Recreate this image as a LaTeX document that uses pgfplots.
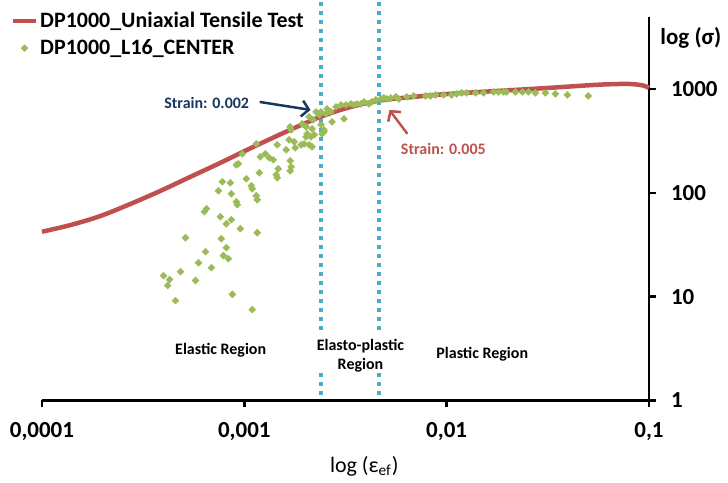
\documentclass[border=0pt]{standalone}
\usepackage{fontspec}
\setmainfont{Carlito}
\usepackage{pgfplots}
\pgfplotsset{compat=1.18}
\usepackage{pgfplotstable}
\usetikzlibrary{arrows.meta}
\definecolor{cred}{HTML}{C0504D}
\definecolor{cgreen}{HTML}{9BBB59}
\definecolor{cblue}{HTML}{4BACC6}
\definecolor{cnavy}{HTML}{17375E}

\pgfplotstableread{
x y
0.0001 42.17
0.0001374 48.7
0.0001931 59.4
0.0002714 77.5
0.0003814 103.4
0.0005358 141.0
0.000753 192.2
0.001058 264.9
0.001487 361.2
0.001866 440.8
0.002342 532.1
0.002938 621.4
0.003687 701.7
0.004784 778.6
0.00728 847.1
0.01023 895.2
0.01803 956.8
0.0318 1022.4
0.0561 1097.4
0.0788 1117
0.0933 1080.6
0.1 1022.4
}\tensile

\pgfplotstableread{
x y
0.000978 237.1
0.001199 221.9
0.001269 237.1
0.001328 217.0
0.001390 207.6
0.001685 203.1
0.001704 177.8
0.000913 185.9
0.000934 190.0
0.001471 170.1
0.001685 162.8
0.000779 127.6
0.000853 124.8
0.001023 136.3
0.001186 155.7
0.001438 149.0
0.001454 139.4
0.000745 104.5
0.000863 97.8
0.001083 116.8
0.001095 109.3
0.000913 81.9
0.000924 76.7
0.001146 93.6
0.001159 85.6
0.000650 70.2
0.000635 65.7
0.000762 58.8
0.000863 55.0
0.000815 50.3
0.000956 45.1
0.001159 41.2
0.000512 36.9
0.000770 36.1
0.000815 29.6
0.000643 27.1
0.000788 24.8
0.000834 23.2
0.000594 21.2
0.000688 19.0
0.000484 17.4
0.000399 15.9
0.000427 14.6
0.000574 14.3
0.000418 12.8
0.000873 10.5
0.000457 9.15
0.001095 7.50
0.001146 295.9
0.001454 289.4
0.001610 259.1
0.001784 270.8
0.001666 323.3
0.001764 309.3
0.001909 289.4
0.002090 289.4
0.001685 431.1
0.001704 403.4
0.002043 369.3
0.002138 345.5
0.002021 345.5
0.002213 361.2
0.002263 600.9
0.002090 538.0
0.002188 503.4
0.002342 562.3
0.002534 574.9
0.001931 460.8
0.002021 431.1
0.002163 412.5
0.002395 450.7
0.002478 385.9
0.001975 295.9
0.002163 276.9
0.002423 369.3
0.002478 403.4
0.002395 600.9
0.002564 642.3
0.002683 600.9
0.002714 481.6
0.002840 671.4
0.003005 701.7
0.003109 514.6
0.003180 701.7
0.003366 717.5
0.003483 701.7
0.003604 717.5
0.003771 717.5
0.003901 749.9
0.004129 717.5
0.004271 749.9
0.004469 783.7
0.004730 801.3
0.004894 819.2
0.005063 801.3
0.005299 819.2
0.005610 837.6
0.005800 801.3
0.006353 837.6
0.006878 856.4
0.007880 856.4
0.008340 856.4
0.008828 875.6
0.009666 875.6
0.01058 875.6
0.01120 895.2
0.01186 915.3
0.01255 915.3
0.01390 915.3
0.01522 915.3
0.01704 935.8
0.01804 935.8
0.01909 935.8
0.01975 935.8
0.02188 935.8
0.02368 935.8
0.02535 935.8
0.02745 915.3
0.03074 915.3
0.03443 895.2
0.03947 875.6
0.05006 856.4
}\center

\begin{document}
\begin{tikzpicture}
\begin{axis}[
  scale only axis, width=304pt, height=192pt,
  xmode=log, ymode=log,
  xmin=1e-4, xmax=0.1, ymin=1, ymax=4921,
  axis x line=bottom, axis y line=right,
  axis line style={line width=1.25pt, -},
  every tick/.style={line width=1.25pt, black},
  major tick length=3.5pt, tick align=outside,
  xminorticks=false, yminorticks=false,
  xtick={1e-4,1e-3,1e-2,1e-1},
  xticklabels={{0,0001},{0,001},{0,01},{0,1}},
  ytick={1,10,100,1000},
  yticklabels={1,10,100,1000},
  x tick label style={font=\bfseries\fontsize{11.5}{13}\selectfont, yshift=-4pt},
  y tick label style={font=\bfseries\fontsize{11.5}{13}\selectfont, anchor=west, xshift=4pt},
  xlabel={log (ε\textsubscript{ef})},
  x label style={at={(axis description cs:0.531,-0.172)}, anchor=center, font=\fontsize{11}{13}\selectfont},
  clip=false,
  legend style={draw=none, fill=none, at={(axis description cs:-0.052,1.02)}, anchor=north west,
    font=\bfseries\fontsize{11}{13}\selectfont, row sep=2.5pt, inner sep=0pt,
    nodes={inner xsep=1pt, inner ysep=1pt},
    /tikz/every even column/.append style={column sep=0pt}},
  legend cell align=left,
  legend image code/.code={\draw[mark repeat=2,mark phase=2,#1] plot coordinates {(0pt,0pt) (5.75pt,0pt) (11.5pt,0pt)};},
]
\addplot[cred, line width=2.25pt, smooth, tension=0.5] table {\tensile};
\addlegendentry{DP1000\_Uniaxial Tensile Test}
\addplot[only marks, mark=square*, mark size=1.2pt, mark options={rotate=45, draw=cgreen, fill=cgreen, line width=0.3pt}, color=cgreen] table {\center};
\addlegendentry{DP1000\_L16\_CENTER}

\addplot[forget plot, cblue, line width=2pt, dash pattern=on 2pt off 2.5pt] coordinates {(0.00239,6870) (0.00239,4.82)};
\addplot[forget plot, cblue, line width=2pt, dash pattern=on 2pt off 2.5pt] coordinates {(0.00239,1.82) (0.00239,1.1)};
\addplot[forget plot, cblue, line width=2pt, dash pattern=on 2pt off 2.5pt] coordinates {(0.00465,6870) (0.00465,4.82)};
\addplot[forget plot, cblue, line width=2pt, dash pattern=on 2pt off 2.5pt] coordinates {(0.00465,1.82) (0.00465,1.1)};

\node[font=\bfseries\fontsize{8}{9.5}\selectfont] at (axis description cs:0.2944,0.1302) {Elastic Region};
\node[font=\bfseries\fontsize{8}{9.5}\selectfont, align=center] at (axis description cs:0.5247,0.1172) {Elasto-plastic\\Region};
\node[font=\bfseries\fontsize{8}{9.5}\selectfont] at (axis description cs:0.7253,0.1198) {Plastic Region};

\node[font=\bfseries\fontsize{8}{9.5}\selectfont, text=cnavy] at (axis description cs:0.2714,0.776) {Strain: 0.002};
\draw[cnavy, line width=1.25pt, -{Straight Barb[length=3.5pt,width=8pt]}] (axis description cs:0.3586,0.7786) -- (axis description cs:0.4424,0.7578);
\node[font=\bfseries\fontsize{8}{9.5}\selectfont, text=cred] at (axis description cs:0.6612,0.6563) {Strain: 0.005};
\draw[cred, line width=1.25pt, -{Straight Barb[length=3.5pt,width=8pt]}] (axis description cs:0.602,0.6953) -- (axis description cs:0.5724,0.7578);

\node[font=\bfseries\fontsize{11.5}{13}\selectfont] at (axis description cs:1.069,0.945) {log (σ)};

\path (axis description cs:-0.0691,-0.1953) rectangle (axis description cs:1.1283,1.039);
\end{axis}
\end{tikzpicture}
\end{document}
